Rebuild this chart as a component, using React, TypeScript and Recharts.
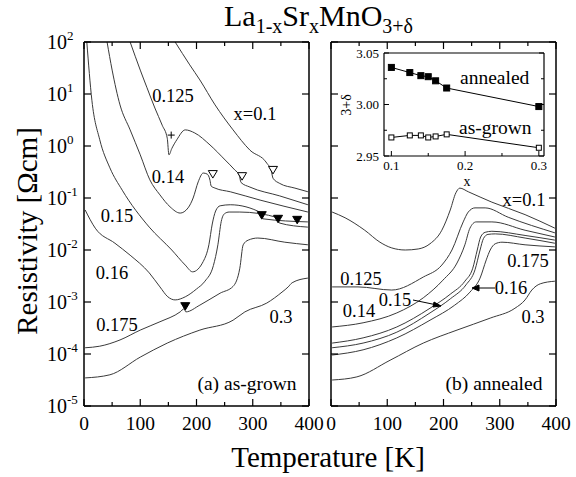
import React from "react";
import { ComposedChart, Line, XAxis, YAxis } from "recharts";

const SERIF = '"Liberation Serif", "DejaVu Serif", serif';
const CURVE = "#3a3a3a";

// temperature axis ticks and decade ticks (log10 of resistivity)
const tempTicks = [0, 50, 100, 150, 200, 250, 300, 350, 400];
const decadeTicks = [-5, -4, -3, -2, -1, 0, 1, 2];

// (a) as-grown, points are [T in K, log10(rho / Ohm cm)]
const grown100 = [[162, 2.0], [188, 1.56], [206, 1.27], [233, 0.79], [265, 0.31], [295, -0.08], [325, -0.33], [333, -0.48], [336, -0.62], [348, -0.72], [375, -0.81], [398, -0.88]];
const grown125 = [[82, 2.0], [100, 1.46], [112, 1.12], [126, 0.73], [139, 0.4], [148, 0.15], [151, -0.17], [156, -0.05], [165, 0.12], [180, 0.31], [197, 0.25], [224, 0.02], [251, -0.27], [268, -0.46], [276, -0.56], [279, -0.7], [295, -0.79], [348, -0.96], [398, -1.13]];
const grown140 = [[41, 2.0], [50, 1.46], [64, 0.79], [82, 0.31], [100, -0.17], [117, -0.65], [135, -0.94], [153, -1.17], [171, -1.29], [185, -1.19], [194, -1.0], [203, -0.69], [212, -0.52], [219, -0.54], [224, -0.66], [226, -0.77], [233, -0.81], [260, -0.88], [313, -1.04], [398, -1.27]];
const grown150 = [[5, 2.0], [14, 0.88], [28, 0.12], [46, -0.42], [68, -0.85], [116, -1.56], [156, -2.0], [180, -2.29], [193, -2.42], [212, -2.22], [222, -1.9], [228, -1.5], [234, -1.25], [242, -1.15], [260, -1.13], [316, -1.29], [318, -1.4], [398, -1.46]];
const grown160 = [[2, -1.23], [20, -1.58], [55, -1.87], [82, -2.1], [116, -2.44], [135, -2.71], [149, -2.9], [162, -2.96], [180, -2.9], [200, -2.75], [215, -2.6], [230, -2.3], [238, -1.9], [244, -1.45], [250, -1.3], [258, -1.27], [277, -1.27], [345, -1.38], [347, -1.48], [398, -1.56]];
const grown175 = [[2, -3.88], [28, -3.85], [64, -3.73], [100, -3.54], [135, -3.38], [171, -3.19], [178, -3.13], [181, -3.19], [206, -3.06], [242, -2.83], [265, -2.7], [277, -2.35], [283, -1.9], [292, -1.81], [309, -1.77], [357, -1.85], [398, -1.9]];
const grown300 = [[2, -4.46], [46, -4.4], [100, -4.06], [148, -3.79], [206, -3.54], [265, -3.35], [286, -3.19], [325, -3.02], [352, -2.81], [363, -2.71], [370, -2.63], [398, -2.54]];

// markers on the as-grown curves
const plusMarks = [[155, 0.21]];
const openMarks = [[229, -0.54], [281, -0.58], [336, -0.46]];
const filledMarks = [[180, -3.08], [316, -1.33], [345, -1.4], [379, -1.42]];

// (b) annealed
const ann100 = [[2, -1.27], [25, -1.38], [60, -1.62], [87, -1.85], [108, -1.96], [132, -2.0], [155, -1.98], [176, -1.88], [197, -1.62], [212, -1.23], [222, -0.9], [229, -0.81], [244, -0.88], [286, -1.08], [345, -1.32], [398, -1.58]];
const ann125 = [[2, -2.71], [48, -2.71], [108, -2.77], [164, -2.52], [197, -2.29], [215, -2.0], [235, -1.46], [244, -1.27], [256, -1.19], [274, -1.19], [315, -1.37], [398, -1.67]];
const ann140 = [[2, -3.48], [57, -3.4], [117, -3.21], [164, -2.92], [199, -2.58], [224, -2.25], [238, -1.9], [247, -1.58], [258, -1.46], [286, -1.46], [345, -1.62], [398, -1.75]];
const ann150 = [[2, -3.79], [57, -3.69], [117, -3.48], [176, -3.12], [212, -2.85], [238, -2.6], [252, -2.35], [260, -2.0], [266, -1.75], [274, -1.66], [286, -1.64], [345, -1.72], [398, -1.81]];
const ann160 = [[2, -3.88], [57, -3.79], [117, -3.58], [176, -3.21], [212, -2.94], [240, -2.67], [256, -2.38], [265, -2.0], [271, -1.78], [279, -1.7], [292, -1.69], [345, -1.77], [398, -1.87]];
const ann175 = [[2, -4.02], [57, -3.92], [117, -3.69], [176, -3.35], [220, -3.06], [247, -2.81], [265, -2.54], [276, -2.19], [283, -2.0], [292, -1.88], [304, -1.85], [345, -1.9], [398, -1.94]];
const ann300 = [[2, -4.5], [46, -4.44], [105, -4.12], [164, -3.79], [224, -3.54], [283, -3.31], [327, -3.12], [345, -2.96], [357, -2.77], [372, -2.65], [398, -2.6]];

// inset: oxygen content vs x
const insetX = [0.1, 0.125, 0.14, 0.15, 0.16, 0.175, 0.3];
const annealedDelta = [3.036, 3.031, 3.028, 3.027, 3.023, 3.016, 2.998];
const grownDelta = [2.968, 2.97, 2.97, 2.968, 2.969, 2.971, 2.958];
const insetXTicks = [0.1, 0.15, 0.2, 0.25, 0.3];
const insetYTicks = [2.95, 2.975, 3.0, 3.025, 3.05];

const pts = (a: number[][]) => a.map(([T, r]) => ({ T, r }));

const grownCurves = [grown100, grown125, grown140, grown150, grown160, grown175, grown300];
const annealedCurves = [ann100, ann125, ann140, ann150, ann160, ann175, ann300];

const annealedData = insetX.map((x, i) => ({ x, d: annealedDelta[i] }));
const grownData = insetX.map((x, i) => ({ x, d: grownDelta[i] }));

const frame = { stroke: "#000", strokeWidth: 1.5 };

const BottomTick = (p: any) => {
  const v = p.payload.value;
  const major = v % 100 === 0;
  return (
    <g>
      <line x1={p.x} y1={p.y} x2={p.x} y2={p.y - (major ? 7 : 4)} stroke="#000" strokeWidth={1.2} />
      {major && (
        <text x={p.x} y={p.y + 24} textAnchor="middle" fontFamily={SERIF} fontSize={19.5} fill="#000">
          {v}
        </text>
      )}
    </g>
  );
};

const TopTick = (p: any) => {
  const major = p.payload.value % 100 === 0;
  return <line x1={p.x} y1={p.y} x2={p.x} y2={p.y + (major ? 7 : 4)} stroke="#000" strokeWidth={1.2} />;
};

const DecadeTick = (p: any) => (
  <g>
    <line x1={p.x} y1={p.y} x2={p.x + 7} y2={p.y} stroke="#000" strokeWidth={1.2} />
    <text x={p.x - 37} y={p.y + 7} fontFamily={SERIF} fontSize={20} fill="#000">
      10
      <tspan dy={-9} fontSize={13}>
        {p.payload.value}
      </tspan>
    </text>
  </g>
);

const LeftTick = (p: any) => <line x1={p.x} y1={p.y} x2={p.x + 7} y2={p.y} stroke="#000" strokeWidth={1.2} />;
const RightTick = (p: any) => <line x1={p.x} y1={p.y} x2={p.x - 7} y2={p.y} stroke="#000" strokeWidth={1.2} />;

const TriDown = (p: any) => {
  const { cx, cy, filled } = p;
  return (
    <path
      d={`M${cx - 4.5},${cy - 3.5} L${cx + 4.5},${cy - 3.5} L${cx},${cy + 4} Z`}
      fill={filled ? "#000" : "#fff"}
      stroke="#000"
      strokeWidth={1}
    />
  );
};

const Plus = (p: any) => (
  <path d={`M${p.cx - 3.5},${p.cy} H${p.cx + 3.5} M${p.cx},${p.cy - 3.5} V${p.cy + 3.5}`} stroke="#000" strokeWidth={1} />
);

// axes get a 1px band each: Recharts skips drawing an axis whose band is 0
const Panel = ({ left, right, curves, labels, marks }: any) => (
  <div style={{ position: "absolute", left: 0, top: 0 }}>
    <ComposedChart width={576} height={477} margin={{ top: 41, left: left - 1, right: 576 - right - 1, bottom: 70 }}>
      <XAxis xAxisId="b" dataKey="T" type="number" domain={[0, 400]} ticks={tempTicks} interval={0} height={1}
        tickSize={0} tickMargin={0} tickLine={false} axisLine={frame} tick={BottomTick} allowDataOverflow />
      <XAxis xAxisId="t" orientation="top" dataKey="T" type="number" domain={[0, 400]} ticks={tempTicks} interval={0}
        height={1} tickSize={0} tickMargin={0} tickLine={false} axisLine={frame} tick={TopTick} allowDataOverflow />
      <YAxis yAxisId="l" type="number" domain={[-5, 2]} ticks={decadeTicks} interval={0} width={1}
        tickSize={0} tickMargin={0} tickLine={false} axisLine={frame} tick={labels ? DecadeTick : LeftTick} allowDataOverflow />
      <YAxis yAxisId="r" orientation="right" type="number" domain={[-5, 2]} ticks={decadeTicks} interval={0} width={1}
        tickSize={0} tickMargin={0} tickLine={false} axisLine={frame} tick={RightTick} allowDataOverflow />
      {curves.map((c: number[][], i: number) => (
        <Line key={i} xAxisId="b" yAxisId="l" data={pts(c)} dataKey="r" type="monotone" stroke={CURVE}
          strokeWidth={1} dot={false} activeDot={false} isAnimationActive={false} />
      ))}
      {marks && (
        <Line xAxisId="b" yAxisId="l" data={pts(openMarks)} dataKey="r" stroke="none" activeDot={false}
          dot={(p: any) => <TriDown key={p.index} cx={p.cx} cy={p.cy} />} isAnimationActive={false} />
      )}
      {marks && (
        <Line xAxisId="b" yAxisId="l" data={pts(filledMarks)} dataKey="r" stroke="none" activeDot={false}
          dot={(p: any) => <TriDown key={p.index} cx={p.cx} cy={p.cy} filled />} isAnimationActive={false} />
      )}
      {marks && (
        <Line xAxisId="b" yAxisId="l" data={pts(plusMarks)} dataKey="r" stroke="none" activeDot={false}
          dot={(p: any) => <Plus key={p.index} cx={p.cx} cy={p.cy} />} isAnimationActive={false} />
      )}
    </ComposedChart>
  </div>
);

const InsetBottomTick = (p: any) => {
  const v = p.payload.value;
  const major = Math.abs(v * 10 - Math.round(v * 10)) < 1e-6;
  return (
    <g>
      <line x1={p.x} y1={p.y} x2={p.x} y2={p.y - (major ? 5 : 3)} stroke="#000" strokeWidth={1} />
      {major && (
        <text x={p.x} y={p.y + 14} textAnchor="middle" fontFamily={SERIF} fontSize={13} fill="#000">
          {v.toFixed(1)}
        </text>
      )}
    </g>
  );
};

const InsetLeftTick = (p: any) => {
  const v = p.payload.value;
  const major = Math.abs(v * 100 - Math.round(v * 100)) < 1e-6;
  return (
    <g>
      <line x1={p.x} y1={p.y} x2={p.x + (major ? 5 : 3)} y2={p.y} stroke="#000" strokeWidth={1} />
      {major && (
        <text x={p.x - 5} y={p.y + 4.5} textAnchor="end" fontFamily={SERIF} fontSize={13} fill="#000">
          {v.toFixed(2)}
        </text>
      )}
    </g>
  );
};

const InsetRightTick = (p: any) => {
  const v = p.payload.value;
  const major = Math.abs(v * 100 - Math.round(v * 100)) < 1e-6;
  return <line x1={p.x} y1={p.y} x2={p.x - (major ? 5 : 3)} y2={p.y} stroke="#000" strokeWidth={1} />;
};

const Square = (p: any) => {
  const s = p.open ? 5 : 6;
  return (
    <rect x={p.cx - s / 2} y={p.cy - s / 2} width={s} height={s} fill={p.open ? "#fff" : "#000"} stroke="#000" strokeWidth={1} />
  );
};

const insetFrame = { stroke: "#000", strokeWidth: 1.2 };

const Inset = () => (
  <div style={{ position: "absolute", left: 0, top: 0 }}>
    <ComposedChart width={576} height={477} margin={{ top: 52, left: 383, right: 31, bottom: 320 }}>
      <XAxis xAxisId="b" dataKey="x" type="number" domain={[0.09, 0.307]} ticks={insetXTicks} interval={0} height={1}
        tickSize={0} tickMargin={0} tickLine={false} axisLine={insetFrame} tick={InsetBottomTick} allowDataOverflow />
      <XAxis xAxisId="t" orientation="top" dataKey="x" type="number" domain={[0.09, 0.307]} ticks={insetXTicks} interval={0}
        height={1} tickSize={0} tickMargin={0} tickLine={false} axisLine={insetFrame} tick={() => <g />} allowDataOverflow />
      <YAxis yAxisId="l" type="number" domain={[2.95, 3.05]} ticks={insetYTicks} interval={0} width={1}
        tickSize={0} tickMargin={0} tickLine={false} axisLine={insetFrame} tick={InsetLeftTick} allowDataOverflow />
      <YAxis yAxisId="r" orientation="right" type="number" domain={[2.95, 3.05]} ticks={insetYTicks} interval={0} width={1}
        tickSize={0} tickMargin={0} tickLine={false} axisLine={insetFrame} tick={InsetRightTick} allowDataOverflow />
      <Line xAxisId="b" yAxisId="l" data={annealedData} dataKey="d" type="linear" stroke="#000" strokeWidth={1}
        dot={(p: any) => <Square key={p.index} cx={p.cx} cy={p.cy} />} activeDot={false} isAnimationActive={false} />
      <Line xAxisId="b" yAxisId="l" data={grownData} dataKey="d" type="linear" stroke="#000" strokeWidth={1}
        dot={(p: any) => <Square key={p.index} cx={p.cx} cy={p.cy} open />} activeDot={false} isAnimationActive={false} />
    </ComposedChart>
  </div>
);

const T = (props: any) => <text fontFamily={SERIF} fill="#000" {...props} />;

const App = () => (
  <div style={{ position: "absolute", left: 0, top: 0, width: 576, height: 477, background: "#fff", overflow: "hidden" }}>
    <Panel left={84} right={309} curves={grownCurves} labels marks />
    <Panel left={331} right={556} curves={annealedCurves} />
    <div style={{ position: "absolute", left: 384, top: 53, width: 160, height: 103, background: "#fff" }} />
    <Inset />
    <svg width={576} height={477} style={{ position: "absolute", left: 0, top: 0, pointerEvents: "none" }}>
      <T x={224} y={26} fontSize={30}>
        La<tspan fontSize={20} dy={7}>1-x</tspan>
        <tspan dy={-7}>Sr</tspan>
        <tspan fontSize={20} dy={7}>x</tspan>
        <tspan dy={-7}>MnO</tspan>
        <tspan fontSize={20} dy={7}>3+δ</tspan>
      </T>
      <T transform="translate(37,231) rotate(-90)" textAnchor="middle" fontSize={29}>
        Resistivity [Ωcm]
      </T>
      <T x={328} y={467} textAnchor="middle" fontSize={29}>
        Temperature [K]
      </T>

      <T x={255} y={120} fontSize={18.5} textAnchor="middle">x=0.1</T>
      <T x={173} y={102} fontSize={18.5} textAnchor="middle">0.125</T>
      <T x={168} y={183} fontSize={18.5} textAnchor="middle">0.14</T>
      <T x={117} y={222} fontSize={18.5} textAnchor="middle">0.15</T>
      <T x={112} y={279} fontSize={18.5} textAnchor="middle">0.16</T>
      <T x={117} y={331} fontSize={18.5} textAnchor="middle">0.175</T>
      <T x={281} y={323} fontSize={18.5} textAnchor="middle">0.3</T>
      <T x={247} y={390} fontSize={19.5} textAnchor="middle">(a) as-grown</T>

      <T x={524} y={206} fontSize={18.5} textAnchor="middle">x=0.1</T>
      <T x={361} y={285} fontSize={18.5} textAnchor="middle">0.125</T>
      <T x={359} y={317} fontSize={18.5} textAnchor="middle">0.14</T>
      <T x={395} y={306} fontSize={18.5} textAnchor="middle">0.15</T>
      <T x={511} y={294} fontSize={18.5} textAnchor="middle">0.16</T>
      <T x={528} y={267} fontSize={18.5} textAnchor="middle">0.175</T>
      <T x={533} y={323} fontSize={18.5} textAnchor="middle">0.3</T>
      <T x={494} y={390} fontSize={19.5} textAnchor="middle">(b) annealed</T>

      <T x={460} y={84} fontSize={19.5}>annealed</T>
      <T x={459} y={134} fontSize={19.5}>as-grown</T>
      <T x={467} y={186} textAnchor="middle" fontSize={14}>x</T>
      <T transform="translate(351,105) rotate(-90)" textAnchor="middle" fontSize={14}>3+δ</T>

      <g stroke="#000" strokeWidth={1} fill="#000">
        <line x1={413} y1={300} x2={437} y2={305} />
        <path d="M441,306 L434,302 L433,307 Z" />
        <line x1={495} y1={288} x2={476} y2={288} />
        <path d="M472,288 L479,285 L479,291 Z" />
      </g>
    </svg>
  </div>
);

export default App;
